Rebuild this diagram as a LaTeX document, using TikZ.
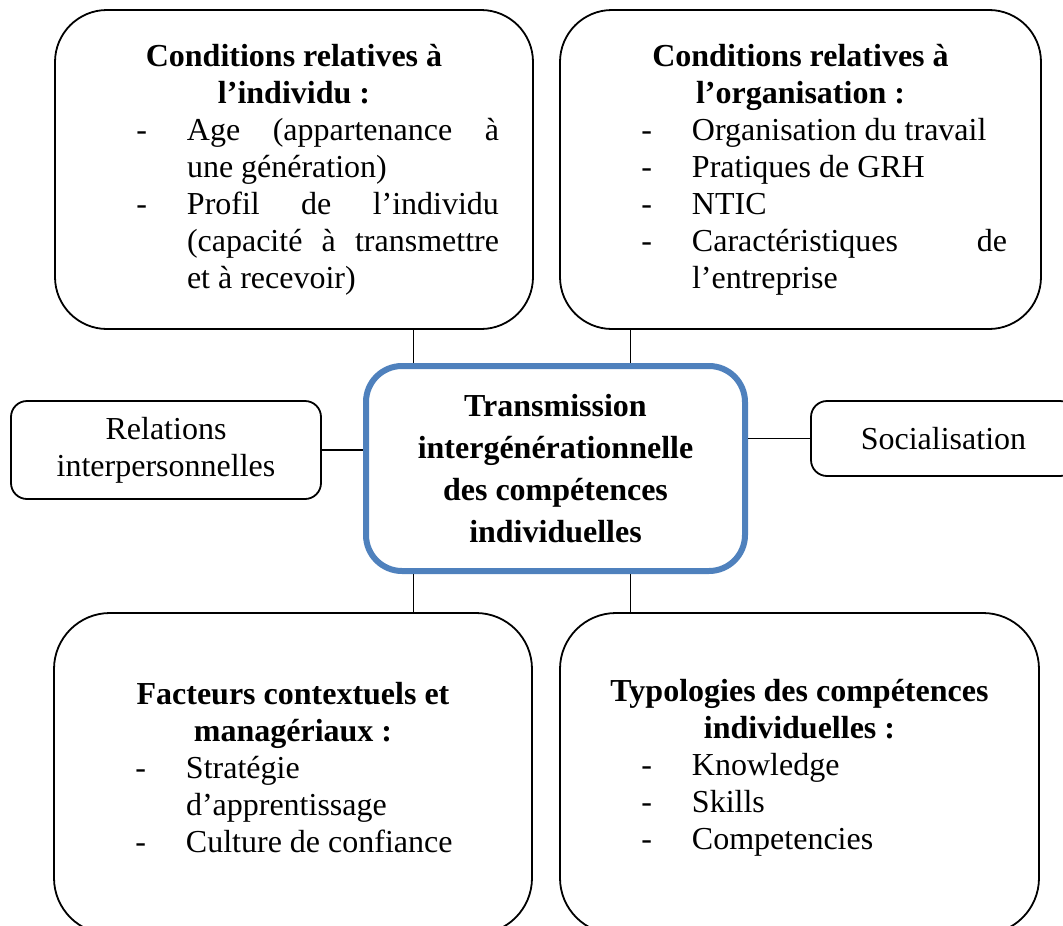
\documentclass[tikz,border=0pt]{standalone}
\usepackage{fontspec}
\setmainfont{Liberation Serif}
\definecolor{boxblue}{HTML}{4F81BD}
\tikzset{
    bigbox/.style={draw, line width=1.8pt, rounded corners=52pt, inner sep=0pt,
        text width=#1, align=justify, font=\fontsize{32}{37}\selectfont},
    sidebox/.style={draw, line width=1.8pt, rounded corners=16pt, inner sep=0pt,
        align=center, font=\fontsize{32}{37}\selectfont},
    mainbox/.style={draw=boxblue, line width=6pt, rounded corners=36pt, inner sep=0pt,
        align=center, font=\bfseries\fontsize{32}{42}\selectfont},
    link/.style={line width=1.5pt}
}
\newcommand{\boxhead}[1]{{\centering\bfseries #1\par}}
\newcommand{\boxlist}{\parindent=0pt\leftskip=132pt\rightskip=34pt\hbadness=10000}
\newcommand{\dashitem}{\noindent\llap{-\hspace{40pt}}}
\begin{document}
\begin{tikzpicture}[x=1pt,y=-1pt]
        \useasboundingbox (0,0) rectangle (1063,926);
        % Draw central box
        \node[mainbox, minimum width=379pt, minimum height=205pt] (trans) at (555.5,468.5)
            {Transmission\\ intergénérationnelle\\ des compétences\\ individuelles};
        % Draw side boxes
        \node[sidebox, minimum width=310pt, minimum height=98pt] (relations) at (166,450)
            {Relations\\ interpersonnelles};
        \node[sidebox, minimum width=265pt, minimum height=75pt] (social) at (943.5,438.5)
            {Socialisation};
        % Draw top boxes
        \node[bigbox=478pt, minimum height=319pt] (individu) at (294,169.5) {
            \boxhead{Conditions relatives à\\ l’individu :}
            \boxlist
            \dashitem Age (appartenance à\linebreak une génération)\par
            \dashitem Profil de l’individu\linebreak (capacité à transmettre\linebreak et à recevoir)\par
        };
        \node[bigbox=481pt, minimum height=319pt] (organisation) at (800.5,169.5) {
            \boxhead{Conditions relatives à\\ l’organisation :}
            \boxlist
            \dashitem Organisation du travail\par
            \dashitem Pratiques de GRH\par
            \dashitem NTIC\par
            \dashitem Caractéristiques de\linebreak l’entreprise\par
        };
        % Draw bottom boxes
        \node[bigbox=478pt, minimum height=321pt, rounded corners=56pt] (facteurs) at (293,773.5) {
            \boxhead{Facteurs contextuels et\\ managériaux :}
            \boxlist
            \dashitem Stratégie\\ d’apprentissage\par
            \dashitem Culture de confiance\par
            \vskip 12pt\kern0pt
        };
        \node[bigbox=479pt, minimum height=321pt, rounded corners=56pt] (typologies) at (799.5,773.5) {
            \boxhead{Typologies des compétences\\ individuelles :}
            \boxlist
            \dashitem Knowledge\par
            \dashitem Skills\par
            \dashitem Competencies\par
            \vskip 12pt\kern0pt
        };
        % Draw links
        \coordinate (jl) at (413.5,0);
        \coordinate (jr) at (630.5,0);
        \foreach \a/\b/\j in {individu/trans/jl, organisation/trans/jr, trans/facteurs/jl, trans/typologies/jr} {
            \draw[link] (\a.south -| \j) -- (\b.north -| \j);
        }
        \draw[link] (relations.east) -- (relations.east -| trans.west);
        \draw[link] (social.west) -- (social.west -| trans.east);
\end{tikzpicture}
\end{document}
